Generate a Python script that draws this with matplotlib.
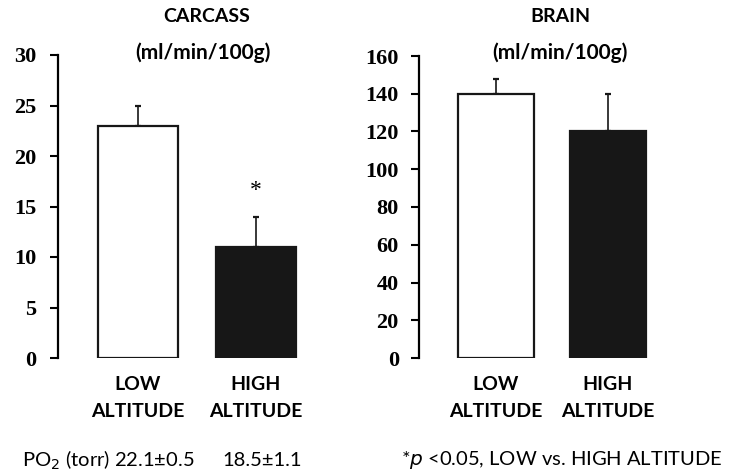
import matplotlib
matplotlib.use("Agg")
import matplotlib.pyplot as plt
from matplotlib.font_manager import FontProperties

# data
groups = ["LOW\nALTITUDE", "HIGH\nALTITUDE"]
carcass_mean = [23, 11]
carcass_err = [2, 3]
brain_mean = [140, 120]
brain_err = [8, 20]
carcass_ticks = [0, 5, 10, 15, 20, 25, 30]
brain_ticks = [0, 20, 40, 60, 80, 100, 120, 140, 160]
po2_text = ["PO$_2$ (torr) 22.1±0.5", "18.5±1.1"]

W, H = 734, 475
fig = plt.figure(figsize=(W / 100, H / 100), dpi=100)

tick_fp = FontProperties(family="Liberation Serif", weight="bold", size=16)
cat_fp = FontProperties(family="Lato", weight="bold", size=14)
title_fp = FontProperties(family="Lato", weight="bold", size=14)
unit_fp = FontProperties(family="Lato", weight="bold", size=15)
note_fp = FontProperties(family="Lato", weight="normal", size=14.5)
bar_colors = ["white", "#171717"]


def px_axes(x0, x1, y_top, y_bot):
    return fig.add_axes([x0 / W, 1 - y_bot / H, (x1 - x0) / W, (y_bot - y_top) / H])


def draw_panel(ax, means, errs, ticks, xlim, ypad):
    x = [0, 1]
    ax.bar(x, means, width=0.68, color=bar_colors, edgecolor="#171717",
           linewidth=1.6, zorder=2)
    ax.errorbar(x, means, yerr=[[0, 0], errs], fmt="none", ecolor="#171717",
                elinewidth=1.2, capsize=2.3, capthick=1.6, zorder=1)
    ax.set_xlim(*xlim)
    ax.set_ylim(ticks[0], ticks[-1])
    ax.tick_params(axis="x", length=0, pad=13)
    ax.tick_params(axis="y", direction="out", length=5.5, width=1.5, pad=ypad)
    for s in ["top", "right", "bottom"]:
        ax.spines[s].set_visible(False)
    ax.spines["left"].set_linewidth(1.6)
    ax.set_yticks(ticks)
    ax.set_yticklabels([str(t) for t in ticks], fontproperties=tick_fp)
    ax.set_xticks(x)
    ax.set_xticklabels(groups, fontproperties=cat_fp, linespacing=1.7)


ax1 = px_axes(58, 310, 55, 358)
draw_panel(ax1, carcass_mean, carcass_err, carcass_ticks, (-0.678, 1.458), 10)
ax1.text(1, 16.6, "*", ha="center", va="center",
         fontproperties=FontProperties(family="Liberation Serif", size=17))

ax2 = px_axes(419, 670, 56, 358)
draw_panel(ax2, brain_mean, brain_err, brain_ticks, (-0.6875, 1.554), 9)

# panel titles
fig.text(207 / W, 1 - 17 / H, "CARCASS", ha="center", va="center", fontproperties=title_fp)
fig.text(203 / W, 1 - 53 / H, "(ml/min/100g)", ha="center", va="center", fontproperties=unit_fp)
fig.text(560 / W, 1 - 17 / H, "BRAIN", ha="center", va="center", fontproperties=title_fp)
fig.text(560 / W, 1 - 53 / H, "(ml/min/100g)", ha="center", va="center", fontproperties=unit_fp)

# notes under the panels
fig.text(22 / W, 1 - 460 / H, po2_text[0], ha="left", va="center", fontproperties=note_fp)
fig.text(262 / W, 1 - 460 / H, po2_text[1], ha="center", va="center", fontproperties=note_fp)
fig.text(562 / W, 1 - 460 / H, "*$\\it{p}$ <0.05, LOW vs. HIGH ALTITUDE",
         ha="center", va="center", fontproperties=note_fp)

fig.savefig("out.png", dpi=100)
